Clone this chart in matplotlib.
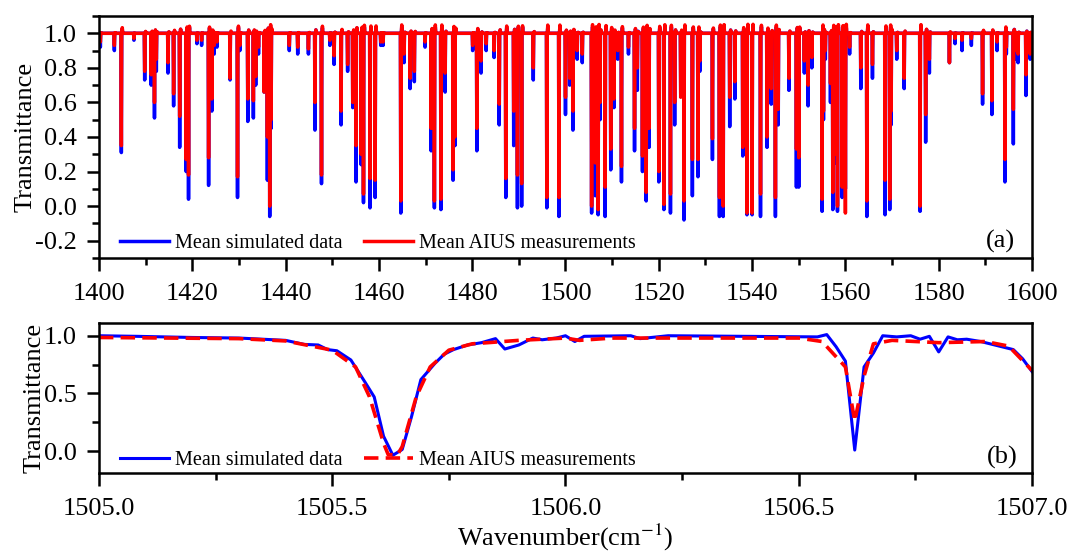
import numpy as np
import matplotlib
matplotlib.use("Agg")
import matplotlib.pyplot as plt
from matplotlib.ticker import MultipleLocator, FormatStrFormatter

# ---- data ----

# panel (a): absorption lines, centre wavenumber and minimum transmittance
line_centers = [1400.3, 1403.3, 1404.8, 1407.5, 1409.8, 1411.2, 1411.9, 1412.3, 1414.8, 1416.0,
                1417.3, 1418.7, 1419.2, 1421.0, 1422.0, 1423.5, 1424.2, 1424.7, 1425.3, 1428.1,
                1429.7, 1430.2, 1431.9, 1433.1, 1433.6, 1434.2, 1435.4, 1436.1, 1436.6, 1436.9,
                1440.8, 1442.6, 1444.9, 1446.3, 1447.7, 1449.5, 1450.4, 1451.9, 1453.3, 1454.4,
                1455.1, 1456.2, 1456.7, 1458.1, 1459.2, 1460.4, 1460.9, 1464.7, 1465.4, 1466.7,
                1467.6, 1469.9, 1471.2, 1471.9, 1473.3, 1474.2, 1475.9, 1476.3, 1480.1, 1481.0,
                1481.9, 1483.0, 1484.7, 1485.8, 1487.2, 1488.9, 1489.7, 1490.6, 1493.1, 1496.0,
                1498.6, 1500.0, 1500.9, 1501.6, 1502.5, 1503.6, 1505.6, 1506.4, 1507.0, 1507.4,
                1508.5, 1509.7, 1510.4, 1511.2, 1512.0, 1513.5, 1514.8, 1515.4, 1516.5, 1517.3,
                1517.9, 1520.0, 1521.1, 1522.5, 1523.4, 1524.7, 1525.4, 1527.2, 1528.4, 1528.8,
                1531.5, 1533.0, 1533.8, 1535.2, 1536.3, 1538.0, 1538.9, 1540.0, 1541.8, 1543.2,
                1544.1, 1545.0, 1545.6, 1547.9, 1549.5, 1550.0, 1551.2, 1552.0, 1552.8, 1555.0,
                1555.3, 1555.7, 1556.8, 1557.3, 1557.8, 1558.3, 1559.3, 1560.0, 1560.9, 1563.3,
                1564.6, 1565.8, 1568.5, 1569.5, 1569.8, 1571.0, 1572.6, 1576.0, 1577.2, 1578.0,
                1582.3, 1583.5, 1585.0, 1587.0, 1589.4, 1591.4, 1592.5, 1594.2, 1594.5, 1596.0,
                1596.3, 1597.0, 1598.7, 1599.6]
sim_minimum = [0.92, 0.90, 0.31, 0.96, 0.73, 0.70, 0.51, 0.78, 0.77, 0.58,
               0.34, 0.20, 0.04, 0.94, 0.93, 0.12, 0.55, 0.88, 0.92, 0.73,
               0.05, 0.90, 0.49, 0.51, 0.70, 0.88, 0.66, 0.15, -0.06, 0.45,
               0.90, 0.88, 0.88, 0.44, 0.13, 0.93, 0.82, 0.47, 0.78, 0.57,
               0.14, 0.24, 0.02, -0.01, 0.05, 0.93, 0.93, -0.04, 0.83, 0.68,
               0.72, 0.92, 0.32, -0.01, -0.02, 0.66, 0.15, 0.35, 0.90, 0.32,
               0.77, 0.90, 0.86, 0.47, 0.05, 0.35, -0.01, 0.00, 0.73, -0.01,
               -0.06, 0.53, 0.70, 0.44, 0.85, 0.83, -0.04, 0.06, -0.05, 0.50,
               -0.06, 0.21, 0.57, 0.85, 0.14, 0.88, 0.32, 0.67, 0.20, 0.03,
               0.34, 0.14, -0.02, -0.04, 0.47, 0.65, -0.08, 0.06, 0.17, 0.78,
               0.27, -0.06, -0.06, 0.46, 0.62, 0.29, -0.05, -0.05, -0.06, 0.34,
               0.59, -0.06, 0.47, 0.67, 0.11, 0.11, 0.77, 0.58, 0.80, -0.03,
               0.50, 0.85, 0.60, -0.02, 0.25, -0.03, 0.05, 0.10, 0.88, 0.68,
               -0.06, 0.74, -0.05, -0.02, 0.47, 0.85, 0.68, -0.03, 0.37, 0.77,
               0.83, 0.94, 0.90, 0.93, 0.59, 0.53, 0.90, 0.14, 0.88, 0.36,
               0.85, 0.83, 0.64, 0.85]
aius_minimum = [0.95, 0.93, 0.35, 0.97, 0.78, 0.76, 0.60, 0.85, 0.83, 0.65,
                0.52, 0.27, 0.18, 0.96, 0.96, 0.28, 0.62, 0.93, 0.95, 0.74,
                0.17, 0.93, 0.62, 0.61, 0.75, 0.92, 0.66, 0.40, 0.00, 0.50,
                0.93, 0.92, 0.91, 0.60, 0.18, 0.96, 0.87, 0.55, 0.82, 0.60,
                0.35, 0.30, 0.07, 0.16, 0.15, 0.95, 0.95, 0.03, 0.88, 0.74,
                0.78, 0.95, 0.45, 0.03, 0.04, 0.77, 0.21, 0.40, 0.93, 0.45,
                0.84, 0.94, 0.90, 0.59, 0.16, 0.55, 0.18, 0.13, 0.80, 0.05,
                0.05, 0.63, 0.74, 0.55, 0.90, 0.88, 0.00, 0.25, -0.02, 0.60,
                0.11, 0.33, 0.62, 0.90, 0.23, 0.92, 0.45, 0.80, 0.29, 0.08,
                0.45, 0.20, 0.01, 0.07, 0.60, 0.63, 0.03, 0.27, 0.27, 0.84,
                0.39, 0.05, 0.00, 0.63, 0.72, 0.34, -0.04, -0.04, 0.07, 0.40,
                0.68, 0.05, 0.56, 0.74, 0.33, 0.28, 0.84, 0.70, 0.86, 0.04,
                0.55, 0.90, 0.71, 0.08, 0.30, 0.00, 0.11, -0.04, 0.92, 0.80,
                0.03, 0.82, 0.15, 0.04, 0.55, 0.90, 0.74, 0.00, 0.53, 0.85,
                0.83, 0.97, 0.96, 0.97, 0.65, 0.61, 0.95, 0.27, 0.92, 0.56,
                0.90, 0.88, 0.76, 0.88]

# panel (b): zoom 1505-1507 cm-1
sim_wn = [1505.00, 1505.08, 1505.20, 1505.30, 1505.40, 1505.44, 1505.47, 1505.49, 1505.51, 1505.54,
          1505.57, 1505.59, 1505.61, 1505.63, 1505.65, 1505.67, 1505.69, 1505.72, 1505.74, 1505.76,
          1505.79, 1505.82, 1505.85, 1505.87, 1505.90, 1505.93, 1505.95, 1505.98, 1506.00, 1506.02,
          1506.04, 1506.14, 1506.16, 1506.22, 1506.54, 1506.56, 1506.58, 1506.60, 1506.62, 1506.64,
          1506.66, 1506.68, 1506.71, 1506.74, 1506.76, 1506.78, 1506.80, 1506.82, 1506.84, 1506.86,
          1506.89, 1506.92, 1506.96, 1506.98, 1507.00]
sim_trans = [1.00, 0.995, 0.985, 0.98, 0.96, 0.925, 0.92, 0.88, 0.87, 0.79,
             0.60, 0.47, 0.13, -0.035, 0.015, 0.30, 0.62, 0.76, 0.84, 0.88,
             0.92, 0.94, 0.975, 0.885, 0.92, 0.98, 0.965, 0.98, 1.00, 0.95,
             0.995, 1.00, 0.975, 1.00, 0.99, 1.01, 0.905, 0.78, 0.01, 0.73,
             0.85, 1.00, 0.99, 1.00, 0.97, 0.995, 0.86, 0.99, 0.965, 0.97,
             0.95, 0.92, 0.88, 0.80, 0.69]
aius_wn = [1505.00, 1505.30, 1505.40, 1505.50, 1505.55, 1505.58, 1505.61, 1505.62, 1505.64, 1505.65,
           1505.68, 1505.71, 1505.75, 1505.80, 1505.90, 1506.00, 1506.03, 1506.10, 1506.50, 1506.55,
           1506.60, 1506.62, 1506.64, 1506.66, 1506.70, 1506.80, 1506.90, 1506.95, 1507.00]
aius_trans = [0.985, 0.975, 0.955, 0.875, 0.73, 0.47, 0.07, -0.03, -0.03, 0.04,
              0.47, 0.73, 0.875, 0.93, 0.96, 0.98, 0.96, 0.98, 0.98, 0.95,
              0.73, 0.26, 0.65, 0.93, 0.96, 0.94, 0.95, 0.91, 0.70]


def build_spectrum(grid, centers, minimum, ring):
    # every line is a narrow dip down to its minimum, with a small ring above 1 beside it
    half_width = 0.08
    trans = np.ones_like(grid)
    for c, m in zip(centers, minimum):
        dip = m + (1 - m) * np.abs(grid - c) / half_width
        trans = np.minimum(trans, dip)
    for c, m in zip(centers, minimum):
        tri = 1 - np.abs(grid - (c + 2.5 * half_width)) / half_width
        bump = 1 + ring * (1 - m) * tri
        trans = np.where(tri > 0, np.maximum(trans, bump), trans)
    return trans


def style_axis(ax):
    for spine in ax.spines.values():
        spine.set_linewidth(1.8)
    ax.tick_params(which="both", direction="out", width=1.8, top=False, right=False,
                   labelsize=19)
    ax.tick_params(which="major", length=9)
    ax.tick_params(which="minor", length=5)
    ax.tick_params(axis="x", pad=9)
    ax.tick_params(axis="y", pad=7)


plt.rcParams["font.family"] = ["Liberation Serif", "DejaVu Serif"]
plt.rcParams["mathtext.fontset"] = "stix"
plt.rcParams["axes.unicode_minus"] = False
plt.rcParams["path.simplify"] = False  # keep the narrow lines from being thinned out

fig = plt.figure(figsize=(10.71, 5.56), dpi=100)
ax_a = fig.add_axes([0.0924, 0.536, 0.8712, 0.4352])
ax_b = fig.add_axes([0.0924, 0.149, 0.8712, 0.270])

# ---- panel (a) ----
grid = np.arange(1400, 1600.001, 0.01)
sim_spec = build_spectrum(grid, line_centers, sim_minimum, 0.035)
aius_spec = build_spectrum(grid, line_centers, aius_minimum, 0.05)
ax_a.plot(grid, sim_spec, color="#0000ff", lw=2.5, label="Mean simulated data")
ax_a.plot(grid, aius_spec, color="#ff0000", lw=2.5, label="Mean AIUS measurements")
ax_a.set_xlim(1400, 1600)
ax_a.set_ylim(-0.3, 1.1)
ax_a.xaxis.set_major_locator(MultipleLocator(20))
ax_a.xaxis.set_minor_locator(MultipleLocator(10))
ax_a.yaxis.set_major_locator(MultipleLocator(0.2))
ax_a.yaxis.set_minor_locator(MultipleLocator(0.1))
ax_a.set_ylabel("Transmittance", fontsize=19, labelpad=-1)
style_axis(ax_a)
ax_a.legend(loc="lower left", ncol=2, frameon=False, fontsize=14.5, handlelength=2.4,
            handletextpad=0.3, columnspacing=1.1, borderaxespad=0.2,
            bbox_to_anchor=(0.01, -0.03))
ax_a.text(0.982, 0.02, "(a)", transform=ax_a.transAxes, fontsize=19, ha="right", va="bottom")

# ---- panel (b) ----
ax_b.plot(sim_wn, sim_trans, color="#0000ff", lw=2.2, label="Mean simulated data")
ax_b.plot(aius_wn, aius_trans, color="#ff0000", lw=2.6, linestyle=(0, (4, 2)),
          label="Mean AIUS measurements")
ax_b.set_xlim(1505, 1507)
ax_b.set_ylim(-0.19, 1.11)
ax_b.xaxis.set_major_locator(MultipleLocator(0.5))
ax_b.xaxis.set_minor_locator(MultipleLocator(0.25))
ax_b.xaxis.set_major_formatter(FormatStrFormatter("%.1f"))
ax_b.yaxis.set_major_locator(MultipleLocator(0.5))
ax_b.yaxis.set_minor_locator(MultipleLocator(0.25))
ax_b.set_ylabel("Transmittance", fontsize=19, labelpad=-1)
ax_b.set_xlabel("Wavenumber(cm$^{-1}$)", fontsize=19, labelpad=1)
style_axis(ax_b)
ax_b.legend(loc="lower left", ncol=2, frameon=False, fontsize=14.5, handlelength=2.4,
            handletextpad=0.3, columnspacing=1.1, borderaxespad=0.2,
            bbox_to_anchor=(0.01, -0.06))
ax_b.text(0.985, 0.03, "(b)", transform=ax_b.transAxes, fontsize=19, ha="right", va="bottom")

fig.savefig("out.png", dpi=100)
